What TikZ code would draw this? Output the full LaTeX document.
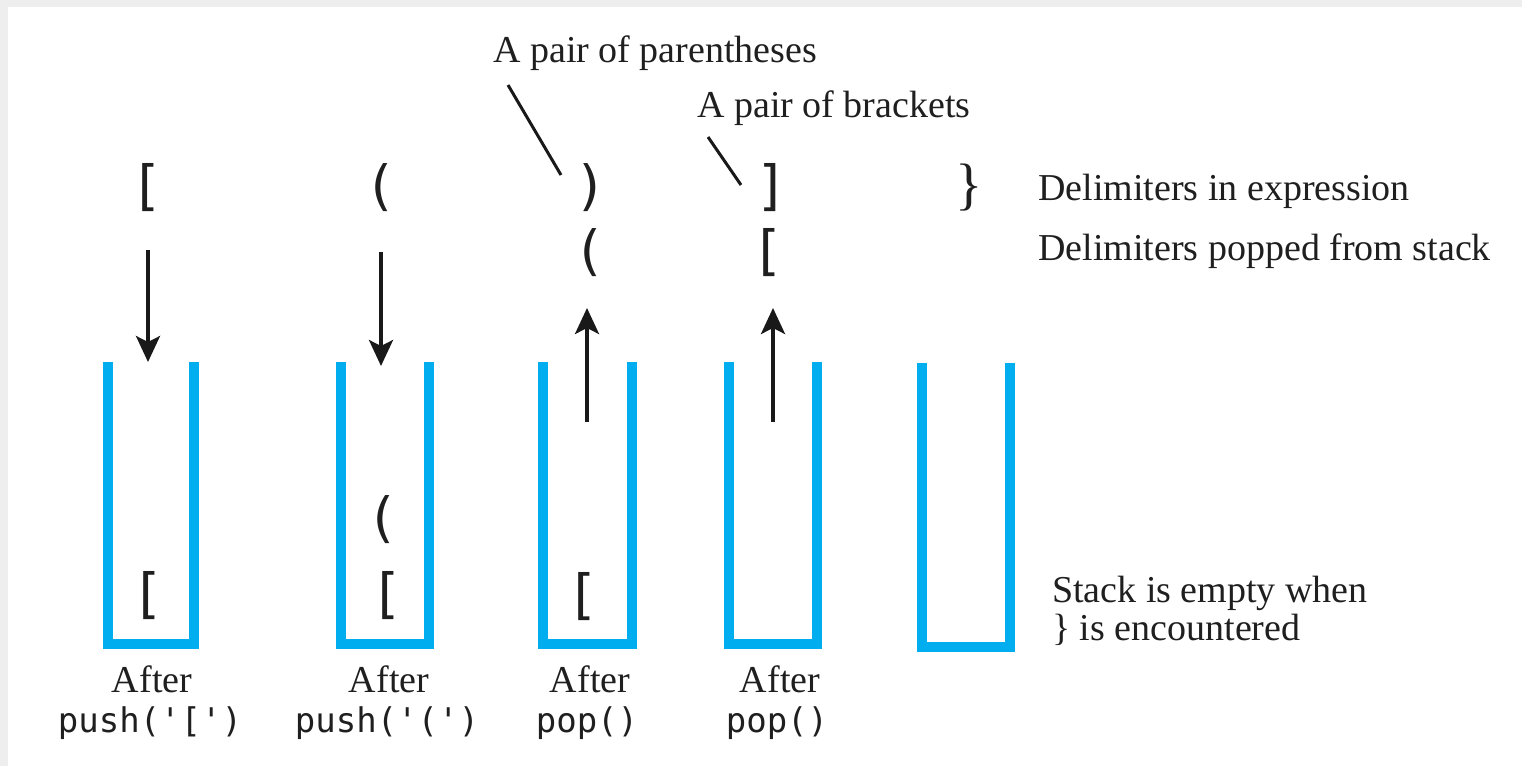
\documentclass[tikz,border=0pt]{standalone}
\usepackage{fontspec}
\setmainfont{Liberation Serif}
\newfontfamily\codefont{DejaVu Sans Mono}
\usetikzlibrary{arrows.meta}
\definecolor{stackblue}{RGB}{0,174,239}
\definecolor{framegray}{RGB}{238,238,238}
\begin{document}
\begin{tikzpicture}[x=1pt,y=-1pt,
  stackline/.style={draw=stackblue,line width=10pt,line join=miter,line cap=butt},
  flowarrow/.style={draw=black!90,line width=3.5pt,-{Stealth[length=26pt,width=24pt,inset=6pt]}},
  leader/.style={draw=black!90,line width=3pt},
  lbl/.style={inner sep=0pt,font=\fontsize{38}{40}\selectfont,text=black!88},
  code/.style={inner sep=0pt,font=\codefont\fontsize{34}{40}\selectfont,text=black!88},
  delim/.style={inner sep=0pt,font=\codefont\fontsize{54}{60}\selectfont,text=black!88},
  brace/.style={inner sep=0pt,font=\fontsize{57}{60}\selectfont,text=black!88}]
% frame
\fill[framegray] (0,0) rectangle (1522,766);
\fill[white] (8,7) rectangle (1522,766);
\useasboundingbox (0,0) rectangle (1522,766);

% stacks
\draw[stackline] (107.5,362) -- (107.5,644) -- (194,644) -- (194,362);
\draw[stackline] (340.5,362) -- (340.5,644) -- (428.5,644) -- (428.5,362);
\draw[stackline] (542.5,362) -- (542.5,644) -- (632,644) -- (632,362);
\draw[stackline] (729,362) -- (729,644) -- (817,644) -- (817,362);
\draw[stackline] (922,363) -- (922,647) -- (1010,647) -- (1010,363);

% delimiters in expression
\node[delim] (e1) at (147,188) {[};
\node[delim] (e2) at (381,188) {(};
\node[delim] (e3) at (591,188) {)};
\node[delim] (e4) at (772,188) {]};
\node[brace] (e5) at (969,188) {\}};

% popped delimiters
\node[delim] (p1) at (590,253) {(};
\node[delim] (p2) at (768,253) {[};

% stack contents
\node[delim] (s1) at (148,596) {[};
\node[delim] (s2a) at (383,520) {(};
\node[delim] (s2b) at (387,596) {[};
\node[delim] (s3) at (583,597) {[};

% arrows
\coordinate (a1s) at (148,250); \coordinate (a1e) at (148,362);
\coordinate (a2s) at (381,252); \coordinate (a2e) at (381,366);
\coordinate (a3s) at (587,422); \coordinate (a3e) at (587,308);
\coordinate (a4s) at (773,422); \coordinate (a4e) at (773,308);
\draw[flowarrow] (a1s) -- (a1e);
\draw[flowarrow] (a2s) -- (a2e);
\draw[flowarrow] (a3s) -- (a3e);
\draw[flowarrow] (a4s) -- (a4e);

% annotations
\node[lbl,anchor=base west] (parlbl) at (493,62) {A pair of parentheses};
\node[lbl,anchor=base west] (brklbl) at (697,117) {A pair of brackets};
\coordinate (l1s) at (508,85); \coordinate (l1e) at (561,175);
\coordinate (l2s) at (708,137); \coordinate (l2e) at (741,185);
\draw[leader] (l1s) -- (l1e);
\draw[leader] (l2s) -- (l2e);

\node[lbl,anchor=base west] (inexpr) at (1038,200) {Delimiters in expression};
\node[lbl,anchor=base west] (popped) at (1038,260) {Delimiters popped from stack};
\node[lbl,anchor=base west] (empty1) at (1052,602) {Stack is empty when};
\node[lbl,anchor=base west] (empty2) at (1052,640) {\} is encountered};

% captions
\node[lbl,anchor=base] (af1) at (152,692) {After};
\node[code,anchor=base] (c1) at (150,732) {push('[')};
\node[lbl,anchor=base] (af2) at (389,692) {After};
\node[code,anchor=base] (c2) at (387,732) {push('(')};
\node[lbl,anchor=base] (af3) at (590,692) {After};
\node[code,anchor=base] (c3) at (587,732) {pop()};
\node[lbl,anchor=base] (af4) at (780,692) {After};
\node[code,anchor=base] (c4) at (777,732) {pop()};
\end{tikzpicture}
\end{document}
